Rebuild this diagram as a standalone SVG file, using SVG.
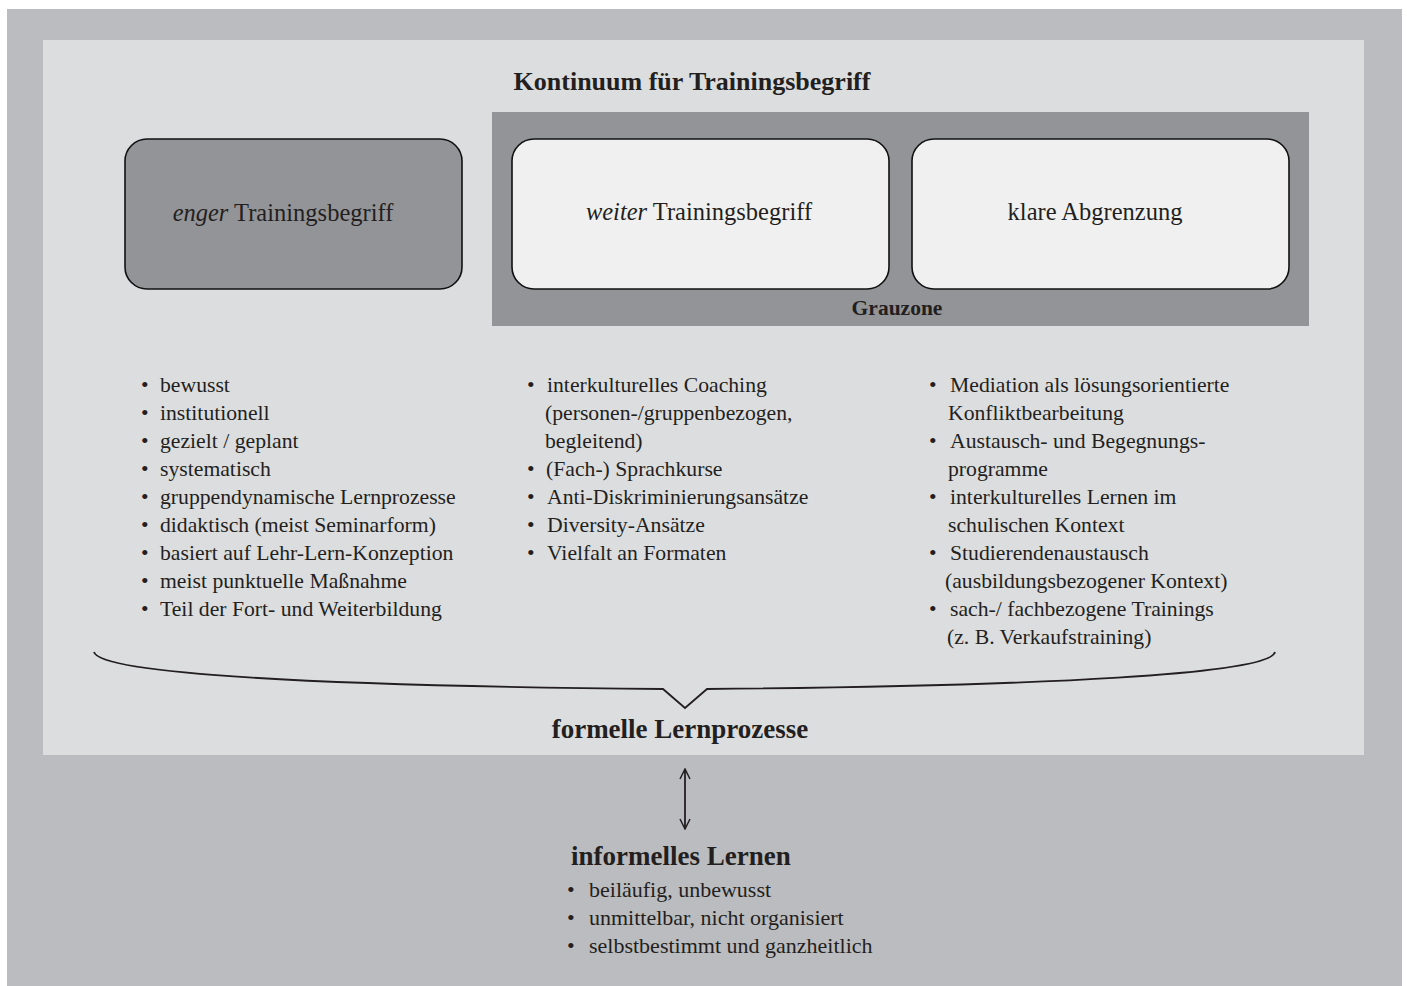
<svg xmlns="http://www.w3.org/2000/svg" width="1407" height="986" viewBox="0 0 1407 986">
<style>
text{font-family:"Liberation Serif","Times New Roman",serif;fill:#231f20;}
.b{font-weight:bold;}
.t{font-size:21.7px;}
.u{font-size:22px;}
.h{font-size:24.5px;}
.box{stroke:#111;stroke-width:1.6;}
.conn{fill:none;stroke:#231f20;stroke-width:1.8;}
</style>
<defs>
<marker id="ah" viewBox="0 0 12 12" refX="11" refY="6" markerWidth="12" markerHeight="12" markerUnits="userSpaceOnUse" orient="auto-start-reverse">
<path d="M1,1 L11,6 L1,11" fill="none" stroke="#231f20" stroke-width="1.5"/>
</marker>
</defs>
<rect x="0" y="0" width="1407" height="986" fill="#ffffff"/>
<rect x="7" y="9" width="1395" height="977" fill="#bbbcbf"/>
<rect x="43" y="40" width="1321" height="715" fill="#dcdddf"/>
<g id="title"><text class="b" font-size="26" x="692" y="90" text-anchor="middle">Kontinuum für Trainingsbegriff</text></g>
<g id="grauzone">
<rect x="492" y="112" width="817" height="214" fill="#939498"/>
<text class="b" font-size="21.5" x="897" y="315" text-anchor="middle">Grauzone</text>
</g>
<g id="enger">
<rect class="box" x="125" y="139" width="337" height="150" rx="22" fill="#939498"/>
<text class="h" x="283" y="221" text-anchor="middle"><tspan font-style="italic">enger</tspan> Trainingsbegriff</text>
</g>
<g id="weiter">
<rect class="box" x="512" y="139" width="377" height="150" rx="22" fill="#f0f0f0"/>
<text class="h" x="699" y="220" text-anchor="middle"><tspan font-style="italic">weiter</tspan> Trainingsbegriff</text>
</g>
<g id="klare">
<rect class="box" x="912" y="139" width="377" height="150" rx="22" fill="#f0f0f0"/>
<text class="h" x="1095" y="220" text-anchor="middle">klare Abgrenzung</text>
</g>
<g id="list-enger">
<text class="t" x="141" y="392">•</text><text class="t" x="160" y="392">bewusst</text>
<text class="t" x="141" y="420">•</text><text class="t" x="160" y="420">institutionell</text>
<text class="t" x="141" y="448">•</text><text class="t" x="160" y="448">gezielt / geplant</text>
<text class="t" x="141" y="476">•</text><text class="t" x="160" y="476">systematisch</text>
<text class="t" x="141" y="504">•</text><text class="t" x="160" y="504">gruppendynamische Lernprozesse</text>
<text class="t" x="141" y="532">•</text><text class="t" x="160" y="532">didaktisch (meist Seminarform)</text>
<text class="t" x="141" y="560">•</text><text class="t" x="160" y="560">basiert auf Lehr-Lern-Konzeption</text>
<text class="t" x="141" y="588">•</text><text class="t" x="160" y="588">meist punktuelle Maßnahme</text>
<text class="t" x="141" y="616">•</text><text class="t" x="160" y="616">Teil der Fort- und Weiterbildung</text>
</g>
<g id="list-weiter">
<text class="t" x="527" y="392">•</text><text class="t" x="547" y="392">interkulturelles Coaching</text>
<text class="t" x="545" y="420">(personen-/gruppenbezogen,</text>
<text class="t" x="545" y="448">begleitend)</text>
<text class="t" x="527" y="476">•</text><text class="t" x="546" y="476">(Fach-) Sprachkurse</text>
<text class="t" x="527" y="504">•</text><text class="t" x="547" y="504">Anti-Diskriminierungsansätze</text>
<text class="t" x="527" y="532">•</text><text class="t" x="547" y="532">Diversity-Ansätze</text>
<text class="t" x="527" y="560">•</text><text class="t" x="547" y="560">Vielfalt an Formaten</text>
</g>
<g id="list-klare">
<text class="t" x="929" y="392">•</text><text class="t" x="950" y="392">Mediation als lösungsorientierte</text>
<text class="t" x="948" y="420">Konfliktbearbeitung</text>
<text class="t" x="929" y="448">•</text><text class="t" x="950" y="448">Austausch- und Begegnungs-</text>
<text class="t" x="948" y="476">programme</text>
<text class="t" x="929" y="504">•</text><text class="t" x="950" y="504">interkulturelles Lernen im</text>
<text class="t" x="948" y="532">schulischen Kontext</text>
<text class="t" x="929" y="560">•</text><text class="t" x="950" y="560">Studierendenaustausch</text>
<text class="t" x="945" y="588">(ausbildungsbezogener Kontext)</text>
<text class="t" x="929" y="616">•</text><text class="t" x="950" y="616">sach-/ fachbezogene Trainings</text>
<text class="t" x="947" y="644">(z. B. Verkaufstraining)</text>
</g>
<g id="formell"><text class="b" font-size="27" x="680" y="738" text-anchor="middle">formelle Lernprozesse</text></g>
<g id="informell">
<text class="b" font-size="27" x="571" y="865">informelles Lernen</text>
<text class="u" x="567" y="897">•</text><text class="u" x="589" y="897">beiläufig, unbewusst</text>
<text class="u" x="567" y="925">•</text><text class="u" x="589" y="925">unmittelbar, nicht organisiert</text>
<text class="u" x="567" y="953">•</text><text class="u" x="589" y="953">selbstbestimmt und ganzheitlich</text>
</g>
<g id="connectors">
<path class="conn" d="M94,652 C100,674 320,686 663,689 L685,708 L707,689 C1050,686 1270,674 1275,652"/>
<line class="conn" x1="685" y1="769" x2="685" y2="829" stroke-width="1.5" marker-start="url(#ah)" marker-end="url(#ah)"/>
</g>
</svg>
